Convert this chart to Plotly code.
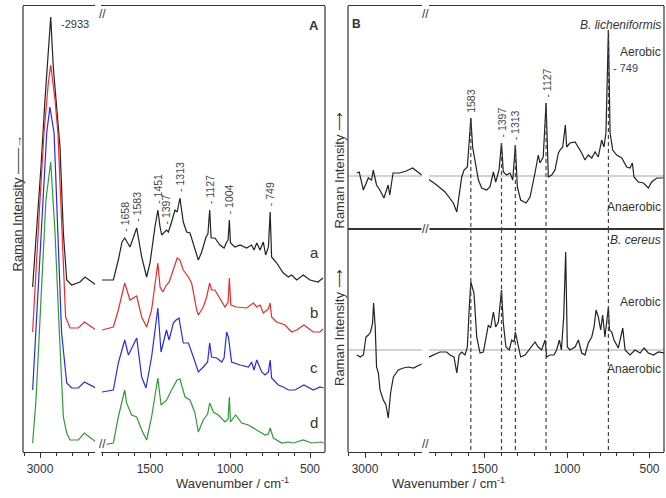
import numpy as np
import plotly.graph_objects as go

W, H = 666, 498
FONT = "Liberation Sans, Arial, sans-serif"
INK = "#333333"

# ---- panel A: stacked spectra a-d (wavenumber / cm-1, intensity a.u.) ----
a_wn = [3046, 3021, 2994, 2969, 2948, 2933, 2917, 2886, 2875, 2854,
        2833, 2802, 2750, 2719, 2650,
        1800, 1729, 1698, 1675, 1658, 1625, 1583, 1552, 1521, 1500,
        1469, 1451, 1437, 1427, 1397, 1385, 1365, 1344, 1330, 1313,
        1292, 1271, 1250, 1223, 1198, 1177, 1150, 1138, 1127, 1118,
        1094, 1063, 1037, 1021, 1012, 1004, 997, 969, 937, 896,
        865, 850, 833, 812, 792, 777, 760, 749, 740, 708,
        667, 635, 615, 583, 542, 500, 450, 419]
a_int = [165, 219, 285, 352, 402, 435, 385, 319, 305, 219,
         172, 167, 170, 175, 167,
         172, 172, 192, 210, 214, 205, 224, 195, 175, 189,
         225, 242, 225, 217, 222, 220, 230, 242, 240, 254,
         230, 220, 219, 205, 192, 200, 215, 218, 242, 214,
         214, 207, 204, 210, 212, 232, 209, 205, 207, 204,
         207, 202, 209, 202, 210, 197, 205, 240, 195, 189,
         179, 175, 177, 172, 177, 172, 170, 174]

b_wn = [3046, 3025, 3000, 2975, 2948, 2933, 2906, 2888, 2871, 2854,
        2840, 2812, 2760, 2723, 2650,
        1800, 1729, 1698, 1658, 1625, 1583, 1552, 1521, 1490, 1465,
        1451, 1437, 1420, 1397, 1380, 1355, 1330, 1313, 1292, 1260,
        1240, 1208, 1198, 1167, 1146, 1127, 1115, 1094, 1063, 1031,
        1012, 1004, 995, 959, 896, 854, 833, 812, 792, 760,
        749, 740, 708, 656, 615, 583, 538, 479, 438, 419]
b_int = [120, 185, 252, 319, 369, 387, 352, 319, 252, 185,
         135, 124, 124, 130, 122,
         122, 125, 142, 169, 152, 156, 135, 125, 142, 175,
         189, 165, 160, 167, 170, 182, 194, 192, 182, 175,
         169, 142, 137, 145, 155, 169, 162, 162, 154, 145,
         150, 174, 147, 145, 144, 149, 145, 147, 139, 143,
         149, 135, 130, 127, 120, 122, 127, 120, 120, 123]

c_wn = [3046, 3027, 3006, 2985, 2958, 2938, 2912, 2896, 2879, 2865,
        2833, 2802, 2760, 2723, 2650,
        1800, 1729, 1698, 1658, 1635, 1583, 1552, 1525, 1490, 1465,
        1451, 1431, 1397, 1381, 1354, 1337, 1319, 1292, 1260, 1229,
        1198, 1167, 1140, 1127, 1115, 1083, 1052, 1037, 1021, 1010,
        990, 937, 885, 865, 850, 833, 802, 781, 760, 749,
        740, 698, 667, 635, 594, 538, 479, 438, 415]
c_int = [62, 119, 185, 252, 319, 345, 319, 252, 185, 119,
         69, 64, 64, 70, 64,
         60, 62, 89, 112, 97, 114, 75, 64, 95, 125,
         144, 100, 122, 112, 129, 132, 134, 109, 109, 95,
         80, 85, 90, 109, 95, 94, 90, 94, 120, 115,
         90, 87, 85, 90, 82, 92, 80, 77, 80, 92,
         74, 67, 65, 62, 62, 67, 62, 65, 64]

d_wn = [3046, 3025, 2994, 2963, 2933, 2906, 2879, 2854, 2833, 2812,
        2760, 2723, 2650,
        1800, 1729, 1698, 1658, 1646, 1615, 1583, 1552, 1521, 1490,
        1465, 1451, 1431, 1396, 1365, 1331, 1313, 1281, 1250, 1219,
        1198, 1167, 1140, 1127, 1104, 1073, 1031, 1012, 1004, 997,
        965, 927, 885, 865, 833, 781, 760, 749, 729, 677,
        635, 604, 542, 490, 429, 415]
d_int = [9, 52, 152, 252, 290, 219, 119, 35, 19, 12,
         12, 19, 10,
         7, 9, 35, 62, 49, 37, 35, 22, 12, 35,
         60, 74, 47, 52, 62, 72, 73, 55, 52, 39,
         20, 32, 38, 49, 40, 37, 30, 33, 55, 30,
         37, 29, 27, 25, 22, 17, 18, 24, 14, 9,
         10, 9, 12, 9, 10, 9]

spectrum_names = ["a", "b", "c", "d"]
spectrum_colors = ["#222222", "#ee2a2a", "#2a2ae6", "#2f9a34"]
a_peaks = [1658, 1583, 1451, 1397, 1313, 1127, 1004, 749]

# ---- panel B: aerobic minus anaerobic difference spectra ----
lich_wn = [3050, 3035, 3010, 2980, 2960, 2950, 2930, 2910, 2885, 2860,
           2850, 2830, 2790, 2750, 2711, 2677, 2657,
           1850, 1790, 1739, 1709, 1689, 1668, 1652, 1638, 1624, 1604,
           1592, 1583, 1572, 1557, 1537, 1517, 1487, 1467, 1446, 1432,
           1412, 1397, 1386, 1366, 1345, 1329, 1313, 1301, 1281, 1248,
           1224, 1194, 1174, 1164, 1144, 1127, 1113, 1093, 1073, 1052,
           1042, 1026, 1010, 1002, 982, 951, 931, 911, 891, 871,
           850, 830, 810, 790, 776, 764, 749, 739, 723, 699,
           668, 638, 618, 604, 594, 568, 537, 507, 487, 456,
           416]
lich_int = [3, 4, -14, -2, -4, 6, -9, -14, -22, -9,
            -19, 3, 3, 5, 8, 4, 1,
            -2, -9, -16, -22, -27, -36, -17, -1, 6, 9,
            36, 58, 29, 16, -4, -12, -14, -11, 4, -6,
            6, 33, 4, 1, 3, -4, 31, -11, -24, -27,
            -21, 3, 21, 13, 19, 73, -1, 1, 6, 23,
            26, 29, 51, 29, 33, 34, 29, 23, 16, 21,
            18, 24, 19, 36, 29, 43, 146, 43, 26, 21,
            18, 9, 8, 13, -1, -6, -7, -12, -6, -2,
            -2]

cer_wn = [3050, 3029, 3010, 2994, 2980, 2966, 2954, 2948, 2938, 2930,
          2919, 2909, 2889, 2873, 2859, 2845, 2828, 2798, 2768, 2737,
          2707, 2657,
          1850, 1810, 1770, 1729, 1709, 1685, 1668, 1654, 1638, 1618,
          1604, 1592, 1583, 1564, 1547, 1527, 1507, 1491, 1477, 1463,
          1446, 1432, 1416, 1397, 1386, 1370, 1350, 1335, 1321, 1313,
          1299, 1281, 1254, 1224, 1194, 1174, 1154, 1133, 1123, 1103,
          1079, 1063, 1046, 1034, 1020, 1008, 998, 982, 951, 931,
          911, 891, 871, 850, 836, 824, 810, 796, 784, 770,
          749, 743, 729, 715, 689, 662, 648, 618, 588, 557,
          533, 507, 476, 446, 405]
cer_int = [-5, -7, -5, 13, 15, 18, 27, 47, 23, -17,
           -23, -40, -50, -55, -68, -43, -27, -20, -18, -17,
           -18, -14,
           -8, -5, -2, -2, -5, -7, -23, -5, -2, -5,
           3, 43, 68, 57, 13, -3, -2, 12, 25, 22,
           38, 23, 28, 60, 27, 3, 0, 10, 8, 18,
           7, -7, -5, 2, 8, 3, 0, 10, -7, -5,
           -5, 0, 10, 0, 33, 98, 3, 0, 3, 10,
           -3, -5, 7, 13, 23, 40, 33, 20, 35, 13,
           43, 20, 18, 10, 2, 22, 0, -5, 0, -3,
           2, -3, -5, -2, -3]

b_peaks = [1583, 1397, 1313, 1127]
b_lines = [1583, 1397, 1313, 1127, 749]


def fx(px):
    return px / W


def fy(py):
    return 1 - py / H


def seg_range(px0, px1, px_ref, w_ref, scale):
    return [w_ref + (px_ref - px0) / scale, w_ref - (px1 - px_ref) / scale]


def peak_val(wn, y, w0):
    return float(np.interp(w0, np.asarray(wn)[::-1], np.asarray(y)[::-1]))


fig = go.Figure()


def add_spectrum(wn, y, color, xl, xr, ya):
    wn = np.asarray(wn)
    y = np.asarray(y)
    hi = wn > 2000
    for mask, xa in ((hi, xl), (~hi, xr)):
        fig.add_trace(go.Scatter(
            x=wn[mask], y=y[mask], xaxis=xa, yaxis=ya, mode="lines",
            line={"color": color, "width": 1.2},
            showlegend=False, hoverinfo="skip",
        ))


for wn, y, col in zip([a_wn, b_wn, c_wn, d_wn], [a_int, b_int, c_int, d_int], spectrum_colors):
    add_spectrum(wn, y, col, "x", "x2", "y")
add_spectrum(lich_wn, lich_int, "#222222", "x3", "x4", "y2")
add_spectrum(cer_wn, cer_int, "#222222", "x5", "x6", "y3")

# --- axes (each panel split in two x segments around the break) ---
A_L = seg_range(23, 95, 40, 3000, 0.16)
A_R = seg_range(101, 325, 230, 1000, 0.16)
B_L = seg_range(348, 422, 365, 3000, 0.165)
B_R = seg_range(429, 664, 567, 1000, 0.165)

tick_axis = dict(
    showline=True, mirror=True, linecolor=INK, linewidth=1.2,
    ticks="outside", ticklen=5, tickwidth=1, tickcolor=INK,
    tickmode="linear", tick0=0, dtick=500,
    minor={"ticks": "outside", "ticklen": 3, "dtick": 100, "tick0": 0, "tickcolor": INK},
    showgrid=False, zeroline=False,
    tickfont={"family": FONT, "size": 12, "color": INK},
)
plain_axis = dict(
    showline=True, mirror=True, linecolor=INK, linewidth=1.2,
    ticks="", showticklabels=False, showgrid=False, zeroline=False,
)
hidden_y = dict(visible=False, showgrid=False, zeroline=False)

fig.update_layout(
    width=W, height=H,
    margin={"l": 0, "r": 0, "t": 0, "b": 0},
    paper_bgcolor="white", plot_bgcolor="white",
    font={"family": FONT, "color": INK},
    xaxis=dict(tick_axis, domain=[fx(23), fx(95)], range=A_L, anchor="y"),
    xaxis2=dict(tick_axis, domain=[fx(101), fx(325)], range=A_R, anchor="y"),
    yaxis=dict(hidden_y, domain=[fy(452), fy(6)], range=[0, 446], anchor="x"),
    xaxis3=dict(plain_axis, domain=[fx(348), fx(422)], range=B_L, anchor="y2"),
    xaxis4=dict(plain_axis, domain=[fx(429), fx(664)], range=B_R, anchor="y2"),
    yaxis2=dict(hidden_y, domain=[fy(229), fy(6)], range=[-53, 170], anchor="x3"),
    xaxis5=dict(tick_axis, domain=[fx(348), fx(422)], range=B_L, anchor="y3"),
    xaxis6=dict(tick_axis, domain=[fx(429), fx(664)], range=B_R, anchor="y3"),
    yaxis3=dict(hidden_y, domain=[fy(452), fy(229)], range=[-102, 121], anchor="x5"),
)

shapes = []
# vertical frame edges
for px in (23, 325, 348, 664):
    shapes.append(dict(type="line", xref="paper", yref="paper",
                       x0=fx(px), x1=fx(px), y0=fy(452), y1=fy(6),
                       line={"color": INK, "width": 1.2}))
# grey zero lines in panel B
for xa, ya in (("x3", "y2"), ("x4", "y2"), ("x5", "y3"), ("x6", "y3")):
    shapes.append(dict(type="line", xref=f"{xa} domain", yref=ya, x0=0, x1=1, y0=0, y1=0,
                       layer="below", line={"color": "#c4c4c4", "width": 1.5}))
# dashed marker lines through panel B
for p in b_lines:
    top = peak_val(lich_wn, lich_int, p)
    shapes.append(dict(type="line", xref="x4", yref="y2", x0=p, x1=p, y0=top, y1=-53,
                       line={"color": "#444444", "width": 1.2, "dash": "4px,3px"}))
    shapes.append(dict(type="line", xref="x6", yref="y3", x0=p, x1=p, y0=121, y1=-102,
                       line={"color": "#444444", "width": 1.2, "dash": "4px,3px"}))
fig.update_layout(shapes=shapes)

ann = []


def txt(text, x, y, size=12, xref="paper", yref="paper", **kw):
    d = dict(text=text, x=x, y=y, xref=xref, yref=yref, showarrow=False,
             font={"family": FONT, "size": size, "color": kw.pop("color", INK)})
    d.update(kw)
    ann.append(d)


# axis break marks
for px, py in ((98, 6), (98, 452), (425.5, 6), (425.5, 229), (425.5, 452)):
    txt("//", fx(px), fy(py), size=12, bgcolor="white", borderpad=0)

# panel A texts
txt("<b>A</b>", fx(314), fy(16), size=13)
txt("-2933", 2933, peak_val(a_wn, a_int, 2933), size=11, xref="x", yref="y",
    xanchor="left", xshift=8, yshift=-7)
for p in a_peaks:
    txt(f"- {p}", p, peak_val(a_wn, a_int, p), size=10.5, xref="x2", yref="y",
        textangle=-90, yanchor="bottom", yshift=4, color="#444444")
for name, ypos in zip(spectrum_names, [200, 140, 85, 30]):
    txt(name, fx(314), ypos, size=15, yref="y")
txt("Raman Intensity \u2014\u2014\u2192", fx(8), fy(203), size=13, textangle=-90)
txt("Wavenumber / cm<sup>-1</sup>", fx(174), fy(493), size=13)

# panel B texts
txt("<b>B</b>", fx(356), fy(15), size=12)
for p in b_peaks:
    label = f"{p}" if p == 1583 else f"- {p}"
    txt(label, p, peak_val(lich_wn, lich_int, p), size=10.5, xref="x4", yref="y2",
        textangle=-90, yanchor="bottom", yshift=3, color="#444444")
txt("- 749", 749, 108, size=11, xref="x4", yref="y2", xanchor="left", xshift=3,
    color="#444444")
txt("<i>B. licheniformis</i>", fx(663), fy(16), size=12, xanchor="right")
txt("Aerobic", fx(663), fy(43), size=12, xanchor="right")
txt("Anaerobic", fx(663), fy(207), size=12, xanchor="right")
txt("<i>B. cereus</i>", fx(663), fy(240), size=12, xanchor="right")
txt("Aerobic", fx(663), fy(302), size=12, xanchor="right")
txt("Anaerobic", fx(663), fy(378), size=12, xanchor="right")
txt("Raman Intensity \u27f6", fx(339), fy(110), size=13, textangle=-90)
txt("Raman Intensity \u27f6", fx(339), fy(328), size=13, textangle=-90)
txt("Wavenumber / cm<sup>-1</sup>", fx(507), fy(493), size=13)

fig.update_layout(annotations=ann)

# page body has a default 8px margin; drop it so the figure fills the window
fig.write_html("out.html", config={"displayModeBar": False},
               post_script="document.body.style.margin='0px';")
